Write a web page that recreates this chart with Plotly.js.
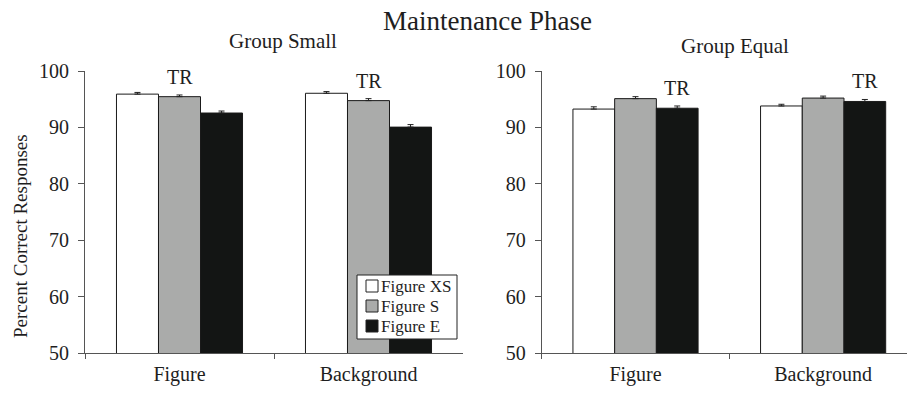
<!DOCTYPE html>
<html>
<head>
<meta charset="utf-8">
<script src="https://cdn.plot.ly/plotly-3.0.1.min.js"></script>
<style>
  html, body { margin: 0; padding: 0; background: #fff; }
  #chart { width: 907px; height: 393px; }
</style>
</head>
<body>
<div id="chart"></div>
<script>
// Conditions on the x axis of each panel
const categories = ['Figure', 'Background'];

// Series (stimulus size)
const seriesNames = ['Figure XS', 'Figure S', 'Figure E'];
const seriesColors = ['#ffffff', '#aaabaa', '#131514'];

// Group Small: mean percent correct and standard error
const smallXS = [95.9, 96.05];
const smallS = [95.45, 94.75];
const smallE = [92.55, 90.05];
const smallXSErr = [0.3, 0.3];
const smallSErr = [0.3, 0.35];
const smallEErr = [0.35, 0.45];

// Group Equal: mean percent correct and standard error
const equalXS = [93.25, 93.8];
const equalS = [95.1, 95.2];
const equalE = [93.4, 94.6];
const equalXSErr = [0.4, 0.3];
const equalSErr = [0.35, 0.35];
const equalEErr = [0.4, 0.35];

// Significance labels: which series each "TR" sits over, per category
const trText = 'TR';
const trSmallSeries = [1, 1];
const trEqualSeries = [2, 2];

const W = 907, H = 393;
const fx = px => px / W;
const fy = py => 1 - py / H;
const serif = 'Liberation Serif';
const ink = '#1e1e1e';
const BARGAP = 0.333;

function makeTraces(vals, errs, xa, ya) {
  return vals.map((v, i) => ({
    type: 'bar',
    name: seriesNames[i],
    x: categories,
    y: v,
    xaxis: xa,
    yaxis: ya,
    showlegend: false,
    marker: { color: seriesColors[i], line: { color: '#1a1a1a', width: 1 } },
    error_y: {
      type: 'data', symmetric: false, array: errs[i],
      arrayminus: errs[i].map(() => 0),
      color: '#222', thickness: 1, width: 3
    },
    hoverinfo: 'skip'
  }));
}

const smallVals = [smallXS, smallS, smallE];
const smallErrs = [smallXSErr, smallSErr, smallEErr];
const equalVals = [equalXS, equalS, equalE];
const equalErrs = [equalXSErr, equalSErr, equalEErr];

const traces = [
  ...makeTraces(smallVals, smallErrs, 'x', 'y'),
  ...makeTraces(equalVals, equalErrs, 'x2', 'y2')
];

// "TR" labels placed above the top of the chosen bar's error bar
const barUnit = (1 - BARGAP) / seriesNames.length;
function trAnnotations(seriesIdx, vals, errs, xref, yref) {
  return categories.map((c, ci) => {
    const s = seriesIdx[ci];
    return {
      text: trText, xref: xref, yref: yref,
      x: ci + (s - 1) * barUnit,
      y: vals[s][ci] + errs[s][ci],
      xanchor: 'center', yanchor: 'bottom', yshift: 5,
      showarrow: false,
      font: { family: serif, size: 20, color: ink }
    };
  });
}

// Compact boxed key inside the Group Small panel
const key = { left: 357, right: 457, top: 275, bottom: 339, row0: 286, rowStep: 20, sq: 12, sqLeft: 366, textLeft: 379 };
const keyShapes = [{
  type: 'rect', xref: 'paper', yref: 'paper', layer: 'above',
  x0: fx(key.left), x1: fx(key.right), y0: fy(key.bottom), y1: fy(key.top),
  fillcolor: '#fff', line: { color: '#222', width: 1 }
}];
const keyAnnotations = [];
seriesNames.forEach((name, i) => {
  const cy = key.row0 + i * key.rowStep;
  keyShapes.push({
    type: 'rect', xref: 'paper', yref: 'paper', layer: 'above',
    x0: fx(key.sqLeft), x1: fx(key.sqLeft + key.sq),
    y0: fy(cy + key.sq / 2), y1: fy(cy - key.sq / 2),
    fillcolor: seriesColors[i], line: { color: '#222', width: 1 }
  });
  keyAnnotations.push({
    text: name, xref: 'paper', yref: 'paper',
    x: fx(key.textLeft), y: fy(cy), xanchor: 'left', yanchor: 'middle',
    showarrow: false, font: { family: serif, size: 17, color: ink }
  });
});

const yAxisBase = {
  range: [50, 100], dtick: 10, tick0: 50,
  showgrid: false, zeroline: false,
  showline: true, linecolor: '#555', linewidth: 1,
  ticks: 'outside', ticklen: 6, tickcolor: '#555', tickwidth: 1,
  ticklabelstandoff: 5,
  tickfont: { family: serif, size: 20, color: ink }
};
const xAxisBase = {
  type: 'category',
  showgrid: false, zeroline: false,
  showline: true, linecolor: '#555', linewidth: 1,
  ticks: 'outside', tickson: 'boundaries', ticklen: 5, tickcolor: '#555', tickwidth: 1,
  ticklabelstandoff: 3,
  tickfont: { family: serif, size: 20, color: ink }
};

const yDomain = [fy(353), fy(71)];

const layout = {
  width: W, height: H,
  margin: { l: 0, r: 0, t: 0, b: 0, pad: 0 },
  paper_bgcolor: '#fff', plot_bgcolor: 'rgba(0,0,0,0)',
  barmode: 'group', bargap: BARGAP, bargroupgap: 0,
  showlegend: false,
  font: { family: serif, color: ink },
  title: {
    text: 'Maintenance Phase',
    font: { family: serif, size: 27, color: ink },
    x: fx(487.5), xanchor: 'center', xref: 'paper',
    y: fy(21), yanchor: 'middle', yref: 'container'
  },
  xaxis: Object.assign({}, xAxisBase, { domain: [fx(85), fx(463)], range: [-0.5, 1.5], anchor: 'y' }),
  yaxis: Object.assign({}, yAxisBase, { domain: yDomain, anchor: 'x' }),
  xaxis2: Object.assign({}, xAxisBase, { domain: [fx(541.7), 1], range: [-0.5, 1.447], anchor: 'y2' }),
  yaxis2: Object.assign({}, yAxisBase, { domain: yDomain, anchor: 'x2' }),
  shapes: keyShapes,
  annotations: [
    {
      text: 'Group Small', xref: 'paper', yref: 'paper',
      x: fx(282.5), y: fy(41), xanchor: 'center', yanchor: 'middle',
      showarrow: false, font: { family: serif, size: 21, color: ink }
    },
    {
      text: 'Group Equal', xref: 'paper', yref: 'paper',
      x: fx(735), y: fy(46), xanchor: 'center', yanchor: 'middle',
      showarrow: false, font: { family: serif, size: 21, color: ink }
    },
    {
      text: 'Percent Correct Responses', xref: 'paper', yref: 'paper',
      x: fx(20), y: fy(236), xanchor: 'center', yanchor: 'middle',
      textangle: -90, showarrow: false,
      font: { family: serif, size: 19, color: ink }
    },
    ...trAnnotations(trSmallSeries, smallVals, smallErrs, 'x', 'y'),
    ...trAnnotations(trEqualSeries, equalVals, equalErrs, 'x2', 'y2'),
    ...keyAnnotations
  ]
};

Plotly.newPlot('chart', traces, layout, { staticPlot: true, displayModeBar: false });
</script>
</body>
</html>
